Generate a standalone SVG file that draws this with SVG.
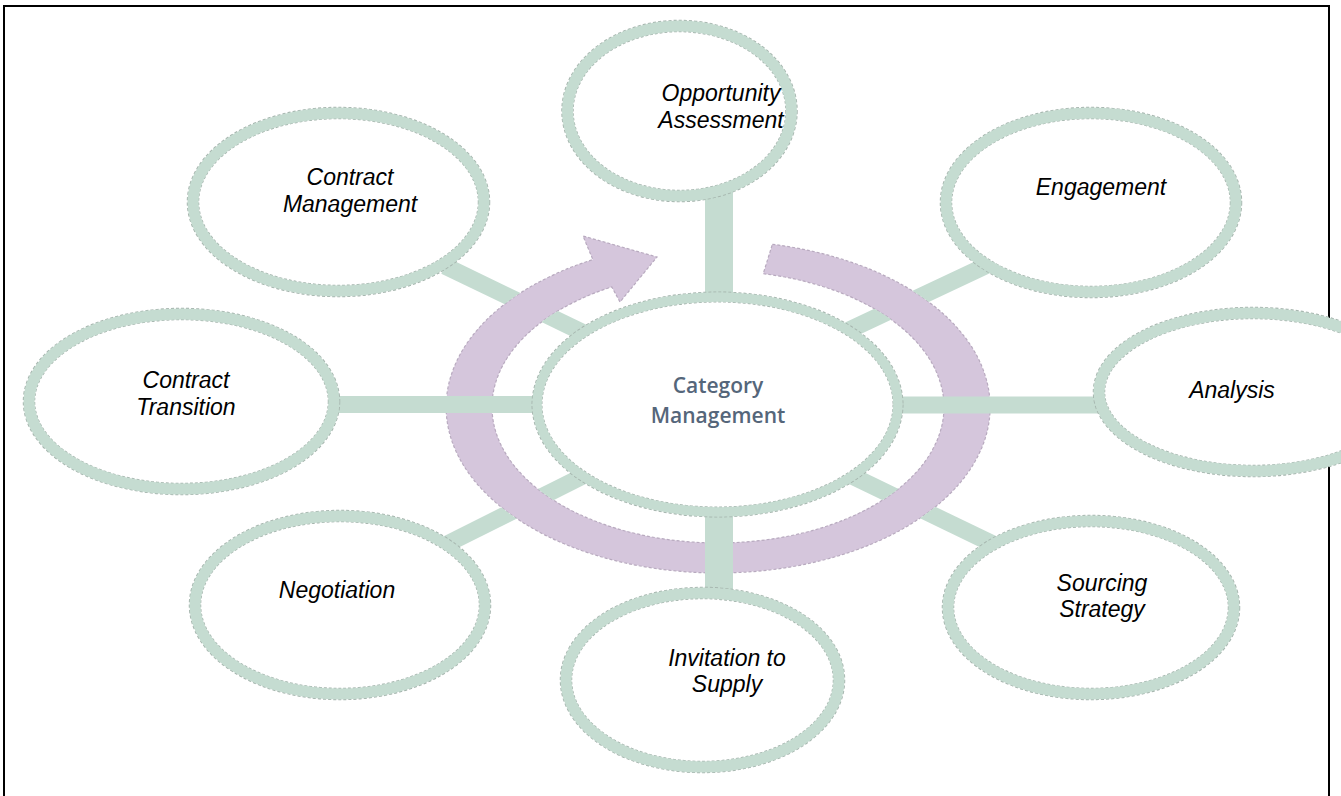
<svg xmlns="http://www.w3.org/2000/svg" width="1341" height="796" viewBox="0 0 1341 796">
  <style>
    .edge { fill: #ffffff; stroke: #a6b5ae; stroke-width: 12.5; stroke-dasharray: 3 2; }
    .ring { fill: none; stroke: #c5dcd1; stroke-width: 11; }
    .bar { stroke: #c5dcd1; stroke-width: 17; fill: none; }
    .bar-wide { stroke: #c5dcd1; stroke-width: 28; fill: none; }
    .label { font-family: "Liberation Sans", Arial, sans-serif; font-style: italic; font-size: 23px; fill: #000000; text-anchor: middle; }
    .hub { font-family: "Open Sans", "Noto Sans", sans-serif; font-size: 21px; font-weight: 600; fill: #55667a; text-anchor: middle; }
    .cycle { fill: #d5c6dc; stroke: #b8aabf; stroke-width: 1.2; stroke-dasharray: 3 2; }
  </style>
  <defs>
    <!-- everything except the lavender band, so diagonal spokes pass under it -->
    <clipPath id="outside-band">
      <path clip-rule="evenodd" d="M0 0H1341V796H0Z M446 407a272 166 0 1 0 544 0a272 166 0 1 0 -544 0Z M492 407a226 136 0 1 0 452 0a226 136 0 1 0 -452 0Z"/>
    </clipPath>
  </defs>

  <rect x="0" y="0" width="1341" height="796" fill="#ffffff"/>
  <!-- frame (bottom edge runs past the canvas) -->
  <rect x="4" y="6" width="1325" height="820" fill="none" stroke="#000000" stroke-width="2"/>

  <!-- cycle arrow around the hub -->
  <g id="cycle-arrow">
    <path class="cycle" d="M772.4 244.3A272 166 0 1 1 592.9 259.6L583 236L657 257L620 302L611.8 286.9A226 136 0 1 0 763.2 273.7Z"/>
  </g>

  <!-- spokes from the hub to each stage -->
  <g id="connectors">
    <g clip-path="url(#outside-band)">
      <line class="bar" x1="445" y1="266" x2="590" y2="336"/>
      <line class="bar" x1="845" y1="332" x2="1000" y2="259"/>
      <line class="bar" x1="585" y1="475" x2="445" y2="545"/>
      <line class="bar" x1="850" y1="475" x2="995" y2="545"/>
    </g>
    <line class="bar" x1="330" y1="404.5" x2="540" y2="404.5"/>
    <line class="bar" x1="895" y1="405" x2="1100" y2="405"/>
    <line class="bar-wide" x1="719" y1="190" x2="719" y2="298"/>
    <line class="bar-wide" x1="719" y1="512" x2="719" y2="592"/>
  </g>

  <g id="node-category-management">
    <ellipse class="edge" cx="717.5" cy="404.5" rx="180.5" ry="107.5" style="stroke-width:11"/>
    <ellipse class="ring" cx="717.5" cy="404.5" rx="180.5" ry="107.5" style="stroke-width:9.5"/>
    <text class="hub" x="718" y="393">Category</text>
    <text class="hub" x="718" y="423">Management</text>
  </g>

  <g id="node-opportunity-assessment">
    <ellipse class="edge" cx="679.5" cy="111" rx="112" ry="85"/>
    <ellipse class="ring" cx="679.5" cy="111" rx="112" ry="85"/>
    <text class="label" x="721" y="101">Opportunity</text>
    <text class="label" x="721" y="128">Assessment</text>
  </g>

  <g id="node-engagement">
    <ellipse class="edge" cx="1091" cy="202.5" rx="145" ry="89.5"/>
    <ellipse class="ring" cx="1091" cy="202.5" rx="145" ry="89.5"/>
    <text class="label" x="1101" y="195">Engagement</text>
  </g>

  <g id="node-analysis">
    <ellipse class="edge" cx="1253" cy="392" rx="154" ry="79"/>
    <ellipse class="ring" cx="1253" cy="392" rx="154" ry="79"/>
    <text class="label" x="1232" y="398">Analysis</text>
  </g>

  <g id="node-sourcing-strategy">
    <ellipse class="edge" cx="1091" cy="607.5" rx="143" ry="86.5"/>
    <ellipse class="ring" cx="1091" cy="607.5" rx="143" ry="86.5"/>
    <text class="label" x="1102" y="591">Sourcing</text>
    <text class="label" x="1102" y="617">Strategy</text>
  </g>

  <g id="node-invitation-to-supply">
    <ellipse class="edge" cx="702.5" cy="680" rx="136.5" ry="87"/>
    <ellipse class="ring" cx="702.5" cy="680" rx="136.5" ry="87"/>
    <text class="label" x="727" y="666">Invitation to</text>
    <text class="label" x="727" y="692">Supply</text>
  </g>

  <g id="node-negotiation">
    <ellipse class="edge" cx="340" cy="605" rx="145" ry="89"/>
    <ellipse class="ring" cx="340" cy="605" rx="145" ry="89"/>
    <text class="label" x="337" y="598">Negotiation</text>
  </g>

  <g id="node-contract-transition">
    <ellipse class="edge" cx="181.5" cy="401.5" rx="152.5" ry="87.5"/>
    <ellipse class="ring" cx="181.5" cy="401.5" rx="152.5" ry="87.5"/>
    <text class="label" x="186" y="388">Contract</text>
    <text class="label" x="186" y="415">Transition</text>
  </g>

  <g id="node-contract-management">
    <ellipse class="edge" cx="338.5" cy="202" rx="145.5" ry="89"/>
    <ellipse class="ring" cx="338.5" cy="202" rx="145.5" ry="89"/>
    <text class="label" x="350" y="185">Contract</text>
    <text class="label" x="350" y="212">Management</text>
  </g>
</svg>
